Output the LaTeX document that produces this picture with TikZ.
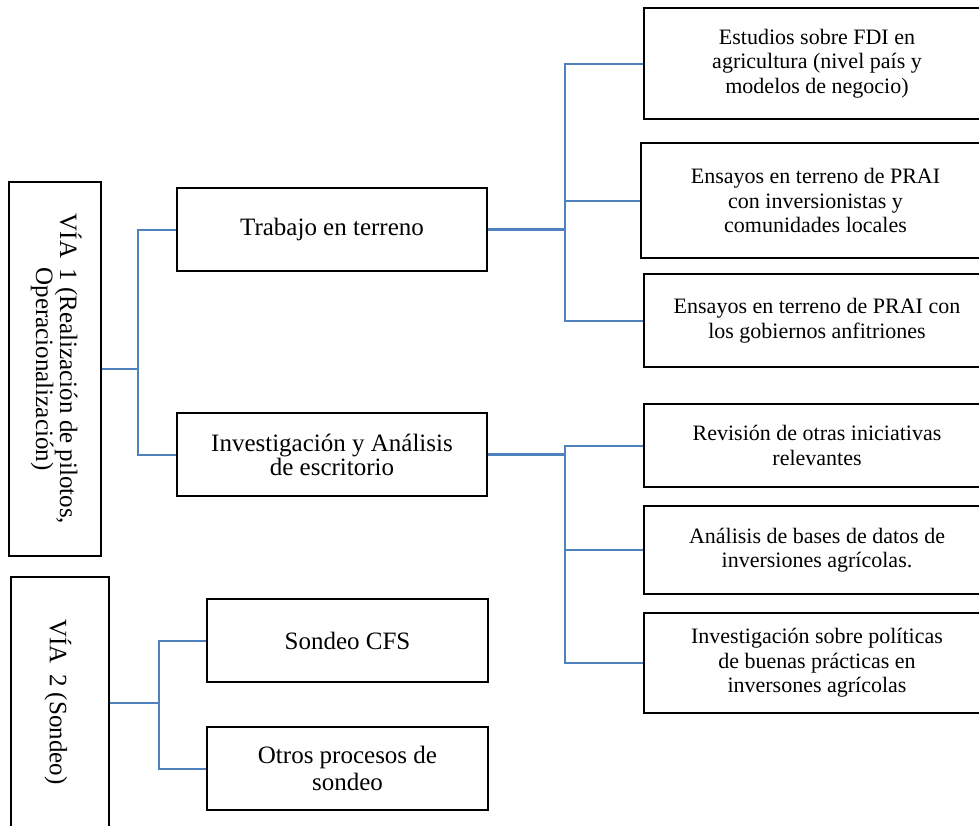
\documentclass[tikz,border=0pt]{standalone}
\usepackage{fontspec}
\setmainfont{Liberation Serif}
\definecolor{linkblue}{HTML}{4F81BD}
\tikzset{
  box/.style={draw=black, line width=2.2pt, rectangle, inner sep=0pt, align=center},
  bigtext/.style={font=\fontsize{25}{26}\selectfont},
  smalltext/.style={font=\fontsize{22}{24.5}\selectfont},
  link/.style={draw=linkblue, line width=2pt},
  stub/.style={draw=linkblue, line width=2.6pt}
}
\begin{document}
\begin{tikzpicture}[x=1pt, y=-1pt]
\clip (0,0) rectangle (979,825);
\fill[white] (0,0) rectangle (979,825);

% left column
\node[box, bigtext, minimum width=92pt, minimum height=374pt] (via1) at (55,369)
  {\rotatebox{-90}{\begin{tabular}{@{}c@{}}VÍA\, 1 (Realización de pilotos,\\[-2pt] Operacionalización)\end{tabular}}};
\node[box, minimum width=98pt, minimum height=263pt] (via2) at (60,708.5) {};
\node[bigtext, inner sep=0pt] (via2t) at (58,702) {\rotatebox{-90}{VÍA\, 2 (Sondeo)}};

% middle column
\node[box, bigtext, minimum width=310pt, minimum height=83pt] (trab) at (332,229.5) {Trabajo en terreno};
\node[box, bigtext, minimum width=310pt, minimum height=83pt] (inv) at (332,454.5) {Investigación y Análisis\\[-2pt] de escritorio};
\node[box, bigtext, minimum width=281pt, minimum height=83pt] (sond) at (347.5,640.5) {Sondeo CFS};
\node[box, bigtext, minimum width=281pt, minimum height=83pt] (otros) at (347.5,768.5) {Otros procesos de\\[1pt] sondeo};

% right column
\node[box, smalltext, minimum width=346pt, minimum height=111pt] (est) at (817,63.5)
  {Estudios sobre FDI en\\ agricultura (nivel país y\\ modelos de negocio)};
\node[box, smalltext, minimum width=349pt, minimum height=115pt] (ens1) at (815.5,200.5)
  {Ensayos en terreno de PRAI\\ con inversionistas y\\ comunidades locales};
\node[box, smalltext, minimum width=346pt, minimum height=93pt] (ens2) at (817,320.5)
  {Ensayos en terreno de PRAI con\\ los gobiernos anfitriones};
\node[box, smalltext, minimum width=346pt, minimum height=83pt] (rev) at (817,445.5)
  {Revisión de otras iniciativas\\ relevantes};
\node[box, smalltext, minimum width=346pt, minimum height=88pt] (ana) at (817,550)
  {Análisis de bases de datos de\\ inversiones agrícolas.};
\node[box, smalltext, minimum width=346pt, minimum height=100pt] (pol) at (817,663)
  {Investigación sobre políticas\\ de buenas prácticas en\\ inversones agrícolas};

% connectors: via1
\coordinate (j1) at (138,369);
\draw[stub] (via1.east) -- (j1);
\draw[link] (j1) |- (trab.west);
\draw[link] (j1) |- (inv.west);

% via2
\coordinate (j2) at (159,703);
\draw[stub] (via2.east |- j2) -- (j2);
\draw[link] (j2) |- (sond.west);
\draw[link] (j2) |- (otros.west);

% trabajo
\coordinate (j3) at (565,229.5);
\draw[stub] (trab.east) -- (j3);
\draw[link] (j3) |- (est.west);
\draw[link] (j3) |- (ens1.west);
\draw[link] (j3) |- (ens2.west);

% investigacion
\coordinate (j4) at (565,454.5);
\draw[stub] (inv.east) -- (j4);
\draw[link] (j4) |- (rev.west);
\draw[link] (j4) |- (ana.west);
\draw[link] (j4) |- (pol.west);
\end{tikzpicture}
\end{document}
